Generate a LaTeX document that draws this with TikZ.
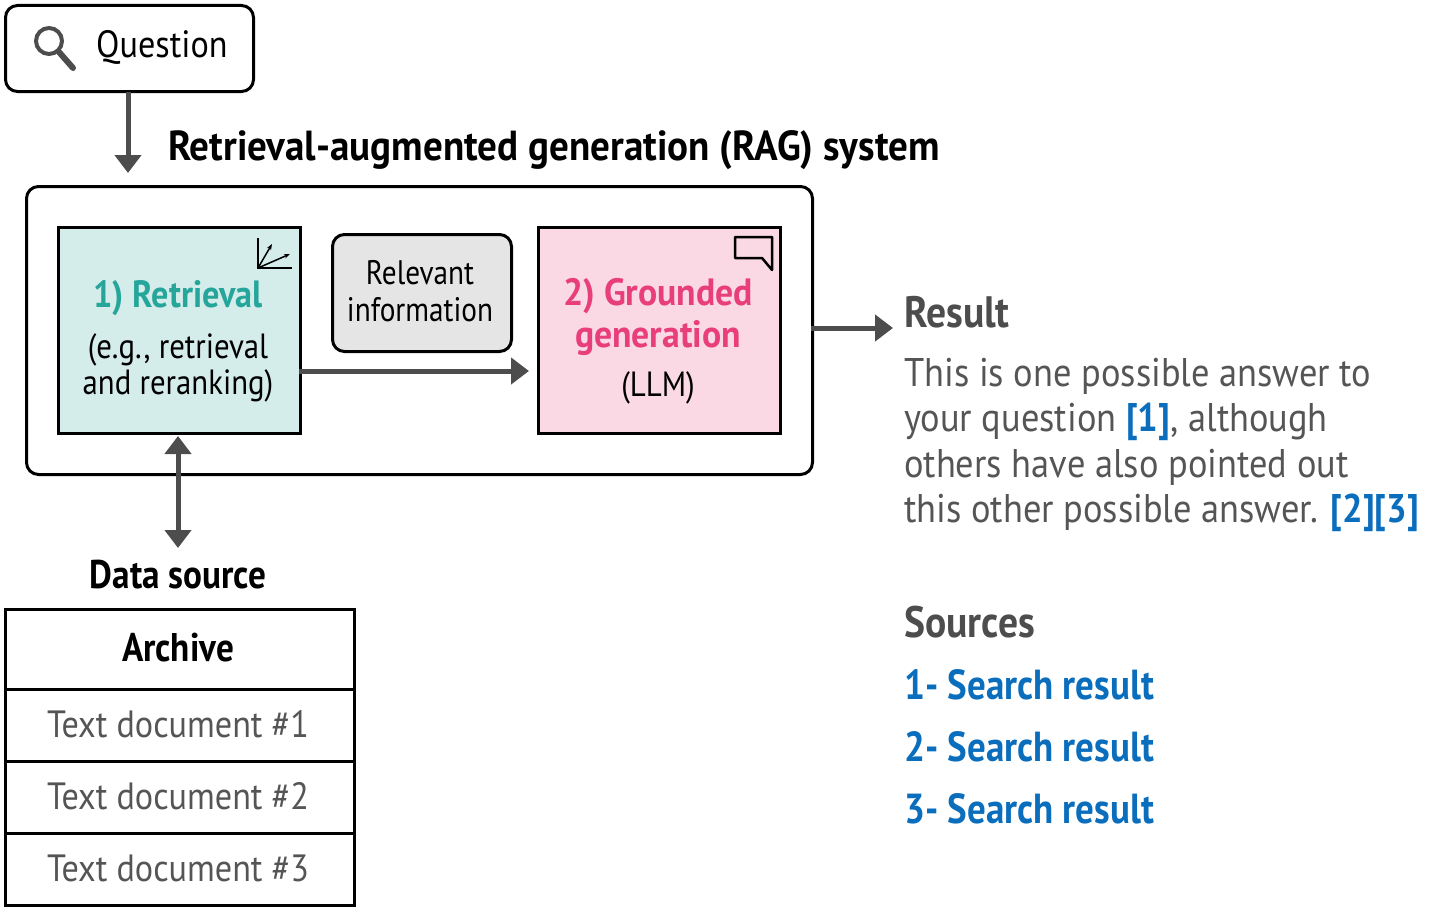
\documentclass[tikz,border=0pt]{standalone}
\usepackage{fontspec}
\setmainfont{PT Sans}
\usetikzlibrary{arrows.meta}
\definecolor{dg}{HTML}{4D4D4D}
\definecolor{tx}{HTML}{555555}
\definecolor{bl}{HTML}{0A6EBD}
\definecolor{teal}{HTML}{26A69A}
\definecolor{pk}{HTML}{E83E7A}
\tikzset{
 box/.style={draw=black,line width=3pt,rounded corners=12pt},
 sq/.style={draw=black,line width=2.5pt},
 arr/.style={draw=dg,line width=5pt,-{Triangle[length=18pt,width=26pt]}},
 f/.style={font=\fontsize{#1}{#1}\selectfont,inner sep=0pt},
}
\begin{document}
\begin{tikzpicture}[x=1pt,y=-1pt]
\useasboundingbox (0,0) rectangle (1431,907);
% question
\node[box,minimum width=248pt,minimum height=86pt,anchor=north west] (q) at (4,4) {};
\node[f=38,anchor=west,xscale=0.9] (qt) at (96,47) {Question};
\draw[dg,line width=4pt] (49,41) circle (13);
\draw[dg,line width=6pt,line cap=round] (59,52) -- (73,68);
\coordinate (qa) at (128,92);
\coordinate (qb) at (128,173);
\draw[arr] (qa) -- (qb);
\node[anchor=west,inner sep=0pt,font=\fontsize{42}{42}\selectfont\bfseries,xscale=0.93] (title) at (168,150) {Retrieval-augmented generation (RAG) system};
% big box
\node[box,minimum width=786pt,minimum height=288pt,anchor=north west] (big) at (25,185) {};
% retrieval
\node[sq,fill=teal!20,minimum width=242pt,minimum height=206pt,anchor=north west] (ret) at (57,226) {};
\node[inner sep=0pt,text=teal,font=\fontsize{38}{38}\selectfont\bfseries,xscale=0.9] at (178,298) {1) Retrieval};
\node[f=35,xscale=0.88] at (178,350) {(e.g., retrieval};
\node[f=35,xscale=0.88] at (178,386) {and reranking)};
\draw[line width=2pt] (258,238) -- (258,268) -- (292,268);
\draw[line width=1.5pt,-{Stealth[length=6pt]}] (258,268) -- (272,244);
\draw[line width=1.5pt,-{Stealth[length=6pt]}] (258,268) -- (290,254);
% relevant
\node[box,fill=black!10,minimum width=179pt,minimum height=117pt,anchor=north west] (rel) at (331,233) {};
\node[f=34,xscale=0.86] at (420,273) {Relevant};
\node[f=34,xscale=0.86] at (420,310) {information};
% grounded
\node[sq,fill=pk!20,minimum width=242pt,minimum height=206pt,anchor=north west] (gen) at (537,226) {};
\node[inner sep=0pt,text=pk,font=\fontsize{38}{38}\selectfont\bfseries,xscale=0.94] at (658,296) {2) Grounded};
\node[inner sep=0pt,text=pk,font=\fontsize{38}{38}\selectfont\bfseries,xscale=0.94] at (658,338) {generation};
\node[f=35,xscale=0.88] at (658,388) {(LLM)};
\draw[line width=2.5pt,line join=round] (735,237) -- (772,237) -- (772,270) -- (762,258) -- (735,258) -- cycle;
% arrows
\coordinate (a1) at (299,371);
\coordinate (a2) at (529,371);
\draw[arr] (a1) -- (a2);
\coordinate (r1) at (811,328);
\coordinate (r2) at (893,328);
\draw[arr] (r1) -- (r2);
\coordinate (d1) at (178,436);
\coordinate (d2) at (178,548);
\draw[draw=dg,line width=5pt,{Triangle[length=18pt,width=26pt]}-{Triangle[length=18pt,width=26pt]}] (d1) -- (d2);
\node[inner sep=0pt,font=\fontsize{40}{40}\selectfont\bfseries,xscale=0.88] (ds) at (178,575) {Data source};
% archive
\node[sq,line width=3pt,minimum width=349pt,minimum height=80pt,anchor=north west] (h) at (4,608) {};
\node[inner sep=0pt,font=\fontsize{40}{40}\selectfont\bfseries,xscale=0.88] at (178,648) {Archive};
\foreach \i/\y in {1/688,2/760,3/832}{
 \node[sq,line width=3pt,minimum width=349pt,minimum height=72pt,anchor=north west] (t\i) at (4,\y) {};
 \node[f=38,text=tx,xscale=0.9] at (178,\y+36) {Text document \#\i};
}
% result
\node[anchor=west,inner sep=0pt,text=dg,font=\fontsize{44}{44}\selectfont\bfseries,xscale=0.9] (res) at (904,312) {Result};
\begin{scope}[every node/.style={f=40,anchor=west,text=tx,xscale=0.91}]
\node (l1) at (904,376) {This is one possible answer to};
\node (l2) at (904,422) {your question \textcolor{bl}{\bfseries[1]}, although};
\node (l3) at (904,467) {others have also pointed out};
\node (l4) at (904,513) {this other possible answer. \textcolor{bl}{\bfseries[2][3]}};
\end{scope}
\node[anchor=west,inner sep=0pt,text=dg,font=\fontsize{44}{44}\selectfont\bfseries,xscale=0.9] (src) at (904,622) {Sources};
\foreach \i/\y in {1/685,2/747,3/809}
 \node[anchor=west,inner sep=0pt,text=bl,font=\fontsize{42}{42}\selectfont\bfseries,xscale=0.88] (s\i) at (904,\y) {\i- Search result};
\end{tikzpicture}
\end{document}
